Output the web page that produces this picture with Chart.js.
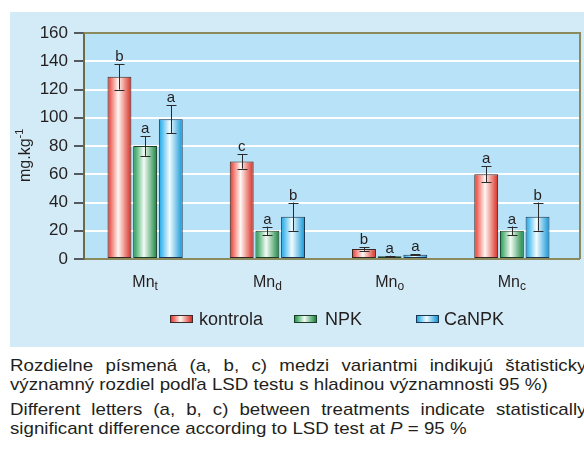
<!doctype html>
<html lang="sk">
<head>
<meta charset="utf-8">
<title>Mn</title>
<script src="https://cdn.jsdelivr.net/npm/chart.js@4.4.0/dist/chart.umd.min.js"></script>
<style>
  body { margin: 0; background: #fff; width: 584px; height: 461px; overflow: hidden; position: relative;
         font-family: "Liberation Sans", Arial, sans-serif; color: #231f20; }
  .panel { position: absolute; left: 10px; top: 12px; width: 580px; height: 335px; background: #d3ebf6; }
  #chart { position: absolute; left: 0; top: 0; }
  .lg { position: absolute; font-size: 18px; line-height: 18px; top: 310px; }
  .box { position: absolute; top: 315px; width: 21px; height: 6px; border: 1px solid #3a2a2a; }
  .caption { position: absolute; left: 10px; top: 356px; width: 524px; font-size: 17px; line-height: 19px;
             text-align: justify; transform: scaleX(1.1); transform-origin: 0 0; }
  .caption p { margin: 0 0 6px 0; }
</style>
</head>
<body>
<div class="panel"></div>
<canvas id="chart" width="584" height="350"></canvas>

<div class="box" style="left:170px;background:linear-gradient(to right,#e8362a,#fff6f2 45%,#d92b20)"></div>
<div class="lg" style="left:199px">kontrola</div>
<div class="box" style="left:294px;border-color:#1b3d26;background:linear-gradient(to right,#1d9a4c,#f2fbf4 45%,#17853f)"></div>
<div class="lg" style="left:325px">NPK</div>
<div class="box" style="left:416px;border-color:#1b3550;background:linear-gradient(to right,#16a6e6,#f0fbff 45%,#0f95d6)"></div>
<div class="lg" style="left:444px">CaNPK</div>

<div class="caption">
  <p>Rozdielne písmená (a, b, c) medzi variantmi indikujú štatisticky významný rozdiel podľa LSD testu s hladinou významnosti 95 %)</p>
  <p>Different letters (a, b, c) between treatments indicate statistically significant difference according to LSD test at <i>P</i> = 95 %</p>
</div>

<script>
// forms of Mn (subscripts)
var categories = ['t', 'd', 'o', 'c'];
var seriesNames = ['kontrola', 'NPK', 'CaNPK'];

var kontrola = [129, 69, 7, 60];
var npk = [80, 20, 2, 20];
var canpk = [99, 30, 3, 30];

var kontrolaErr = [9, 5, 1.2, 5.5];
var npkErr = [7, 3, 0.3, 3];
var canpkErr = [10, 10, 0.4, 10];

var kontrolaLetters = ['b', 'c', 'b', 'a'];
var npkLetters = ['a', 'a', 'a', 'a'];
var canpkLetters = ['a', 'b', 'a', 'b'];

var yTicks = [0, 20, 40, 60, 80, 100, 120, 140, 160];

var FONT = '"Liberation Sans", Arial, sans-serif';
var OLIVE = '#8a8a5c';
var EXTRA = 7; // plot frame runs a bit past last category

// colour pairs for the bar gradients: edge, middle, right edge
var shades = [
  ['#e8362a', '#fff6f2', '#d92b20'],
  ['#1d9a4c', '#f2fbf4', '#17853f'],
  ['#16a6e6', '#f0fbff', '#0f95d6']
];
var errs = [kontrolaErr, npkErr, canpkErr];
var letters = [kontrolaLetters, npkLetters, canpkLetters];

var framePlugin = {
  id: 'frame',
  beforeDraw: function (chart) {
    var a = chart.chartArea, c = chart.ctx;
    c.save();
    c.fillStyle = '#b8e2f7';
    c.fillRect(a.left, a.top, a.right + EXTRA - a.left, a.bottom - a.top);
    c.restore();
  },
  beforeDatasetsDraw: function (chart) {
    var a = chart.chartArea, c = chart.ctx, y = chart.scales.y;
    // white grid continues to the frame
    c.save();
    c.strokeStyle = '#ffffff';
    c.lineWidth = 2;
    yTicks.forEach(function (v) {
      if (v === 0 || v === 160) return;
      var py = Math.round(y.getPixelForValue(v));
      c.beginPath(); c.moveTo(a.right - 1, py); c.lineTo(a.right + EXTRA, py); c.stroke();
    });
    c.restore();
    // gradient fill for each bar
    chart.data.datasets.forEach(function (ds, di) {
      var meta = chart.getDatasetMeta(di);
      meta.data.forEach(function (el) {
        var g = c.createLinearGradient(el.x - el.width / 2, 0, el.x + el.width / 2, 0);
        g.addColorStop(0, shades[di][0]);
        g.addColorStop(0.45, shades[di][1]);
        g.addColorStop(1, shades[di][2]);
        el.options = Object.assign({}, el.options, { backgroundColor: g });
      });
    });
  },
  afterDatasetsDraw: function (chart) {
    var c = chart.ctx, y = chart.scales.y;
    c.save();
    chart.data.datasets.forEach(function (ds, di) {
      var meta = chart.getDatasetMeta(di);
      meta.data.forEach(function (el, i) {
        var v = ds.data[i], e = errs[di][i];
        var top = y.getPixelForValue(v + e), bot = y.getPixelForValue(v - e);
        var x = Math.round(el.x) + 0.5;
        c.strokeStyle = '#2a2a2a';
        c.lineWidth = 1;
        c.beginPath();
        c.moveTo(x, top); c.lineTo(x, bot);
        c.moveTo(x - 5, Math.round(top) + 0.5); c.lineTo(x + 5, Math.round(top) + 0.5);
        c.moveTo(x - 5, Math.round(bot) + 0.5); c.lineTo(x + 5, Math.round(bot) + 0.5);
        c.stroke();
        c.fillStyle = '#231f20';
        c.font = '15px ' + FONT;
        c.textAlign = 'center';
        c.textBaseline = 'alphabetic';
        c.fillText(letters[di][i], el.x, top - 3);
      });
    });
    c.restore();
  },
  afterDraw: function (chart) {
    var a = chart.chartArea, c = chart.ctx, xs = chart.scales.x;
    c.save();
    // top and right edge of the frame
    c.strokeStyle = OLIVE;
    c.lineWidth = 2;
    c.beginPath();
    c.moveTo(a.left, a.top); c.lineTo(a.right + EXTRA, a.top); c.lineTo(a.right + EXTRA, a.bottom);
    c.stroke();
    c.beginPath();
    c.moveTo(a.right - 1, a.bottom); c.lineTo(a.right + EXTRA, a.bottom);
    c.stroke();
    // category labels with subscripts
    c.fillStyle = '#231f20';
    c.textAlign = 'left';
    c.textBaseline = 'alphabetic';
    categories.forEach(function (sub, i) {
      var cx = xs.getPixelForValue(i);
      c.font = '16px ' + FONT;
      var w1 = c.measureText('Mn').width;
      c.font = '12px ' + FONT;
      var w2 = c.measureText(sub).width;
      var x0 = cx - (w1 + w2) / 2;
      c.font = '16px ' + FONT;
      c.fillText('Mn', x0, 287);
      c.font = '12px ' + FONT;
      c.fillText(sub, x0 + w1, 290);
    });
    // y axis title mg.kg-1
    c.translate(30, 182);
    c.rotate(-Math.PI / 2);
    c.font = '16px ' + FONT;
    c.fillText('mg.kg', 0, 0);
    var w = c.measureText('mg.kg').width;
    c.font = '11px ' + FONT;
    c.fillText('-1', w, -7);
    c.restore();
  }
};

var ctx = document.getElementById('chart');
var chart = new Chart(ctx, {
  type: 'bar',
  data: {
    labels: categories.map(function (s) { return 'Mn' + s; }),
    datasets: [
      { label: seriesNames[0], data: kontrola, borderColor: '#3a2420' },
      { label: seriesNames[1], data: npk, borderColor: '#1b3d26' },
      { label: seriesNames[2], data: canpk, borderColor: '#1b3550' }
    ]
  },
  options: {
    responsive: false,
    animation: false,
    devicePixelRatio: 1,
    layout: { padding: { left: 0, top: 33, right: 11, bottom: 91 } },
    datasets: {
      bar: {
        categoryPercentage: 0.63,
        barPercentage: 0.93,
        borderWidth: 1,
        borderSkipped: false,
        backgroundColor: '#e8362a'
      }
    },
    plugins: {
      legend: { display: false },
      tooltip: { enabled: false }
    },
    scales: {
      x: {
        grid: { display: false, drawTicks: false },
        ticks: { display: false },
        border: { display: true, color: OLIVE, width: 2 },
        afterFit: function (s) { s.height = 0; }
      },
      y: {
        min: 0,
        max: 160,
        afterFit: function (s) { s.width = 84; },
        afterBuildTicks: function (s) { s.ticks = yTicks.map(function (v) { return { value: v }; }); },
        ticks: {
          padding: 6,
          color: '#231f20',
          font: { family: FONT, size: 17 }
        },
        grid: {
          color: function (c) { return (c.tick && (c.tick.value === 0 || c.tick.value === 160)) ? 'rgba(0,0,0,0)' : '#ffffff'; },
          lineWidth: 2,
          tickColor: '#2a2a2a',
          tickLength: 10,
          tickWidth: 1.5
        },
        border: { color: '#6b6b45', width: 2 }
      }
    }
  },
  plugins: [framePlugin]
});
</script>
</body>
</html>
